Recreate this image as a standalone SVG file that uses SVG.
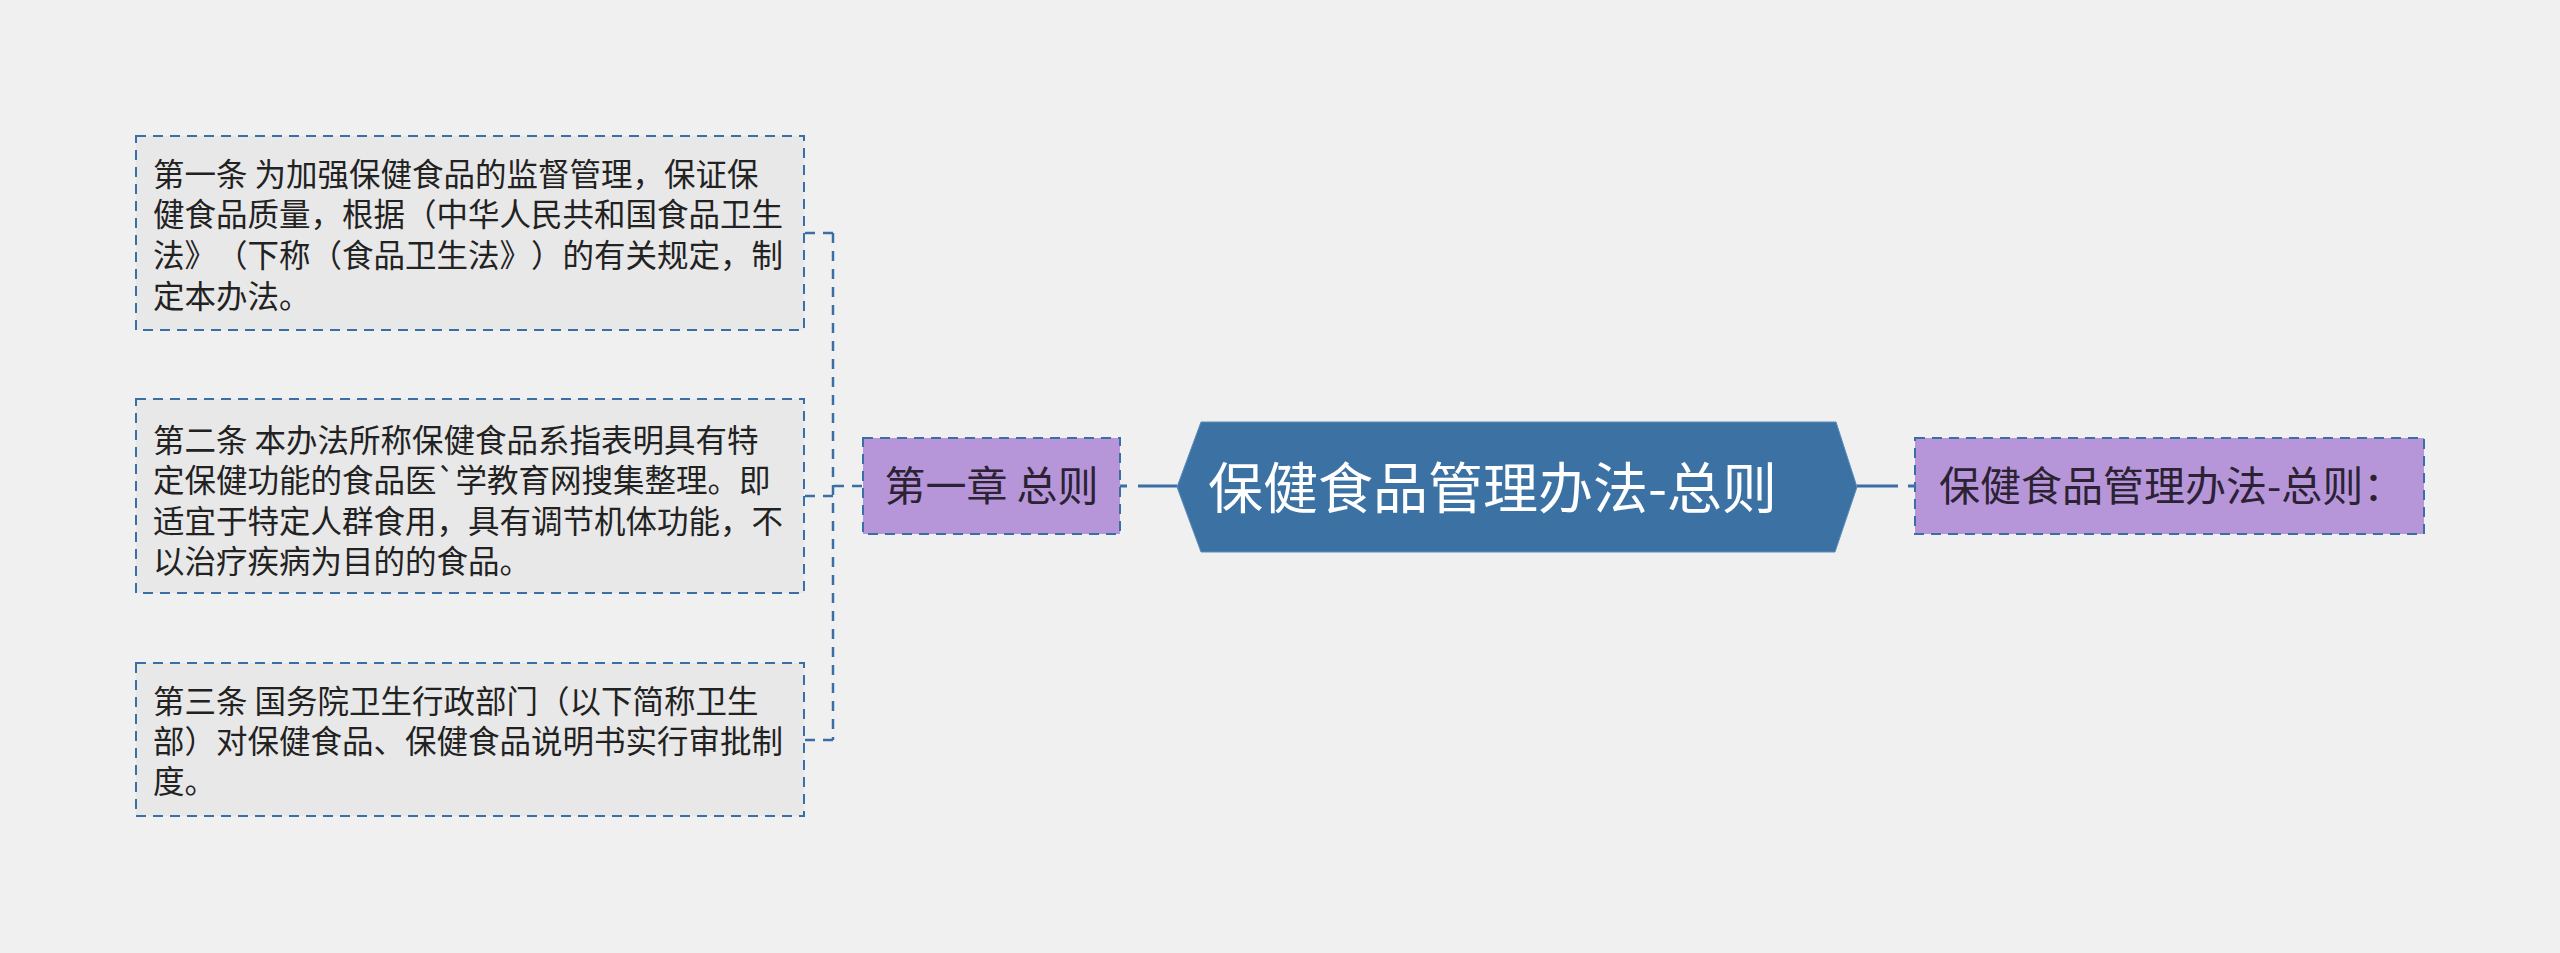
<svg xmlns="http://www.w3.org/2000/svg" width="2560" height="953" viewBox="0 0 2560 953">
<style>
.bg{fill:#f0f0f0}
.leaf{fill:#e8e8e8;stroke:#3a6ea6;stroke-width:2;stroke-dasharray:10 7}
.sub{fill:#b696d9;stroke:#3a6ea6;stroke-width:2;stroke-dasharray:10 7}
.root{fill:#3b71a3;stroke:#5b8cbc;stroke-width:1}
.t{font-family:"Noto Sans CJK SC","Noto Sans",sans-serif;fill:#222;text-spacing-trim:space-all;font-feature-settings:"halt" 0,"chws" 0}
.leaft{font-size:31.5px}
.subt{font-size:41px;fill:#2b2233}
.roott{font-size:55px;fill:#ffffff}
.dash{fill:none;stroke:#3a6ea6;stroke-width:2.5;stroke-dasharray:10 8}
.solid{fill:none;stroke:#3a6ea6;stroke-width:3}
</style>
<rect class="bg" x="0" y="0" width="2560" height="953"/>
<g id="connectors">
<path class="dash" d="M862 486 H833"/>
<path class="dash" d="M833 233 V740"/>
<path class="dash" d="M833 233 H804"/>
<path class="dash" d="M833 496 H804"/>
<path class="dash" d="M833 740 H804"/>
<path class="solid" d="M1177 486 H1138"/>
<path class="solid" d="M1120 486 H1127"/>
<path class="solid" d="M1857 486 H1898"/>
<path class="solid" d="M1908 486 H1915"/>
</g>
<g id="root">
<polygon class="root" points="1177,487 1201,422 1836,422 1857,487 1835,552 1201,552"/>
<text class="t roott" x="1208" y="508">保健食品管理办法-总则</text>
</g>
<g id="chapter1">
<rect class="sub" x="863" y="438" width="257" height="96"/>
<text class="t subt" x="991.5" y="501" text-anchor="middle">第一章 总则</text>
</g>
<g id="summary">
<rect class="sub" x="1915" y="438" width="509" height="96"/>
<text class="t subt" x="1939" y="501">保健食品管理办法-总则：</text>
</g>
<g id="article1">
<rect class="leaf" x="136" y="136" width="668" height="194"/>
<text class="t leaft"><tspan x="153" y="186">第一条 为加强保健食品的监督管理，保证保</tspan><tspan x="153" y="226">健食品质量，根据（中华人民共和国食品卫生</tspan><tspan x="153" y="267">法》（下称（食品卫生法》）的有关规定，制</tspan><tspan x="153" y="308">定本办法。</tspan></text>
</g>
<g id="article2">
<rect class="leaf" x="136" y="399" width="668" height="194"/>
<text class="t leaft"><tspan x="153" y="452">第二条 本办法所称保健食品系指表明具有特</tspan><tspan x="153" y="492">定保健功能的食品医`学教育网搜集整理。即</tspan><tspan x="153" y="533">适宜于特定人群食用，具有调节机体功能，不</tspan><tspan x="153" y="573">以治疗疾病为目的的食品。</tspan></text>
</g>
<g id="article3">
<rect class="leaf" x="136" y="663" width="668" height="153"/>
<text class="t leaft"><tspan x="153" y="713">第三条 国务院卫生行政部门（以下简称卫生</tspan><tspan x="153" y="753">部）对保健食品、保健食品说明书实行审批制</tspan><tspan x="153" y="793">度。</tspan></text>
</g>
</svg>
